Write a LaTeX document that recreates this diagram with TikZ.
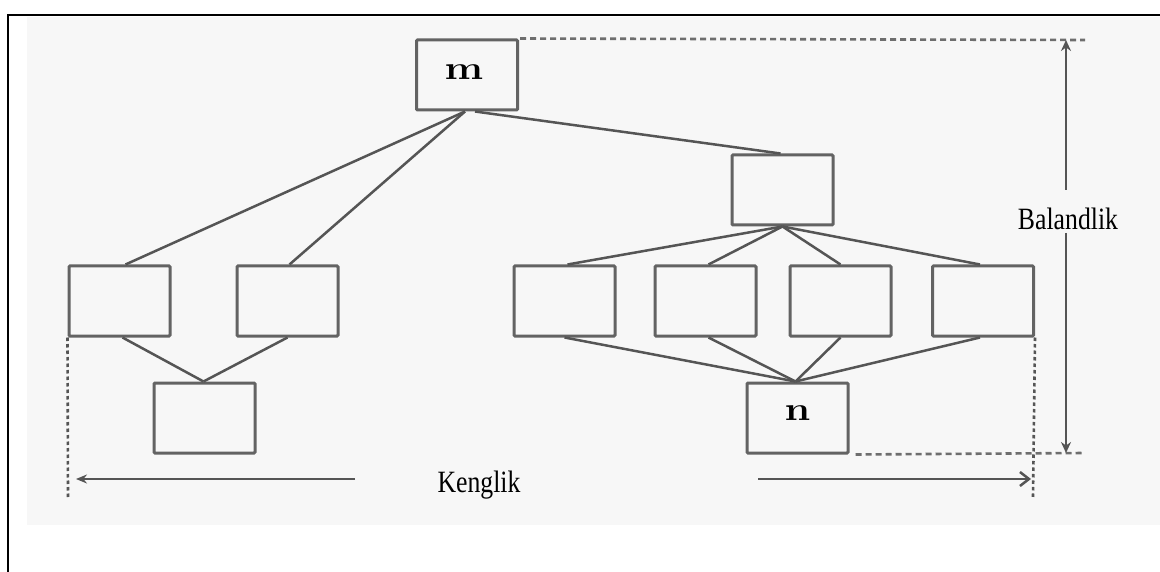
\documentclass[tikz,border=0pt]{standalone}
\usepackage{fontspec}
\setmainfont{Liberation Serif}
\usetikzlibrary{arrows.meta}
\definecolor{panel}{HTML}{F7F7F7}
\definecolor{ink}{HTML}{555555}
\definecolor{boxline}{HTML}{636363}
\begin{document}
\begin{tikzpicture}[x=1pt,y=-1pt,
  box/.style={draw=boxline,line width=3pt,fill=panel,minimum width=101pt,minimum height=70pt,inner sep=0pt,rounded corners=1pt},
  link/.style={draw=ink,line width=2.5pt},
  guide/.style={draw=ink!85,line width=2.6pt,dash pattern=on 6pt off 4pt},
  vguide/.style={draw=ink,line width=2.6pt,dash pattern=on 3.5pt off 3pt},
  dim/.style={draw=ink,line width=2.5pt},
  lbl/.style={font=\fontsize{31}{31}\selectfont,xscale=0.83,anchor=base,inner sep=0pt},
  letter/.style={font=\fontspec{Latin Modern Roman}\bfseries\fontsize{33}{33}\selectfont,xscale=1.25,inner sep=0pt}]
\useasboundingbox (0,0) rectangle (1160,572);
% page and panel
\fill[white] (0,0) rectangle (1160,572);
\fill[panel] (27,17) rectangle (1160,525);
\draw[black,line width=2.2pt] (8,580) -- (8,15) -- (1170,15);

% tree nodes
\node[box] (m)  at (467,75) {};
\node[letter] at (464,72) {m};
\node[box] (c)  at (782.5,190) {};
\node[box] (l1) at (119.5,301) {};
\node[box] (l2) at (287.5,301) {};
\node[box] (lb) at (204.5,418) {};
\node[box] (r1) at (564.5,301) {};
\node[box] (r2) at (705.5,301) {};
\node[box] (r3) at (840.5,301) {};
\node[box] (r4) at (983,301) {};
\node[box] (n)  at (797.5,418) {};
\node[letter] at (797.5,413) {n};

% connectors
\draw[link] ([xshift=-2pt]m.south) -- ([xshift=6pt]l1.north);
\draw[link] ([xshift=-2pt]m.south) -- ([xshift=2pt]l2.north);
\draw[link] ([xshift=8pt]m.south) -- ([xshift=-2pt]c.north);
\draw[link] (c.south) -- ([xshift=3pt]r1.north);
\draw[link] (c.south) -- ([xshift=3pt]r2.north);
\draw[link] (c.south) -- (r3.north);
\draw[link] (c.south) -- ([xshift=-3pt]r4.north);
\draw[link] ([xshift=3pt]l1.south) -- ([xshift=-1pt]lb.north);
\draw[link] (l2.south) -- ([xshift=-1pt]lb.north);
\draw[link] (r1.south) -- ([xshift=-2pt]n.north);
\draw[link] ([xshift=3pt]r2.south) -- ([xshift=-2pt]n.north);
\draw[link] (r3.south) -- ([xshift=-2pt]n.north);
\draw[link] ([xshift=-3pt]r4.south) -- ([xshift=-2pt]n.north);

% dimension guides
\coordinate (topend) at (1085,40);
\coordinate (botend) at (1085,453);
\coordinate (lfoot) at (68,497);
\coordinate (rfoot) at (1033,497);
\draw[guide] ([xshift=1pt]m.north east) -- (topend);
\draw[guide] ([xshift=6pt]n.south east) -- (botend);
\draw[vguide] (l1.south west) -- (lfoot);
\draw[vguide] (r4.south east) -- (rfoot);

% height
\node[lbl] (h) at (1068,230) {Balandlik};
\coordinate (htop) at (1066,40);
\coordinate (hbot) at (1066,453);
\draw[dim,-{Stealth[length=11pt,width=10pt]}] (1066,190) -- (htop);
\draw[dim,-{Stealth[length=11pt,width=10pt]}] (1066,233) -- (hbot);

% width
\node[lbl] (w) at (479,492) {Kenglik};
\coordinate (wl) at (76,479);
\coordinate (wr) at (1031,479);
\draw[dim,-{Stealth[length=11pt,width=9pt]}] (355,479) -- (wl);
\draw[dim,-{Straight Barb[length=9pt,width=14pt]}] (758,479) -- (wr);
\end{tikzpicture}
\end{document}
